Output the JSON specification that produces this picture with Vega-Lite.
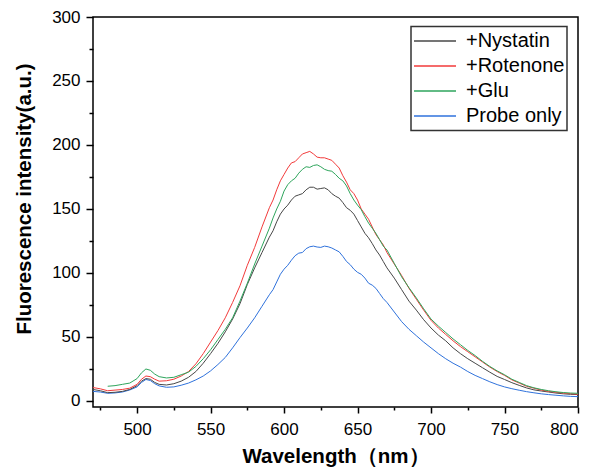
{
  "$schema": "https://vega.github.io/schema/vega-lite/v6.json",
  "width": 485,
  "height": 390,
  "autosize": {"type": "none"},
  "padding": {"left": 93, "top": 17, "right": 14, "bottom": 66},
  "background": "white",
  "config": {
    "view": {"stroke": "black", "strokeWidth": 1.5},
    "font": "Liberation Sans",
    "legend": {"strokeWidth": 1.5},
    "axis": {"grid": false, "domain": false, "tickColor": "black", "tickWidth": 1.5, "labelColor": "black", "labelFont": "Liberation Sans", "labelFontSize": 17, "titleFont": "Liberation Sans", "titleFontSize": 20.5, "titleFontWeight": "bold", "titleColor": "black"}
  },
  "datasets": {
    "spec": [
      {"s": "Probe only", "x": 470, "y": 7.5}, {"s": "Probe only", "x": 475, "y": 7}, {"s": "Probe only", "x": 480, "y": 6}, {"s": "Probe only", "x": 485, "y": 6.3}, {"s": "Probe only", "x": 490, "y": 7}, {"s": "Probe only", "x": 495, "y": 8.6}, {"s": "Probe only", "x": 500, "y": 11}, {"s": "Probe only", "x": 503, "y": 14.5}, {"s": "Probe only", "x": 506, "y": 16.8}, {"s": "Probe only", "x": 509, "y": 16}, {"s": "Probe only", "x": 512, "y": 13.5}, {"s": "Probe only", "x": 515, "y": 11.8}, {"s": "Probe only", "x": 520, "y": 10.7}, {"s": "Probe only", "x": 525, "y": 11}, {"s": "Probe only", "x": 530, "y": 12.3}, {"s": "Probe only", "x": 535, "y": 14}, {"s": "Probe only", "x": 540, "y": 16.5}, {"s": "Probe only", "x": 545, "y": 19.5}, {"s": "Probe only", "x": 550, "y": 23.5}, {"s": "Probe only", "x": 555, "y": 28.5}, {"s": "Probe only", "x": 560, "y": 34}, {"s": "Probe only", "x": 565, "y": 41.5}, {"s": "Probe only", "x": 570, "y": 49.5}, {"s": "Probe only", "x": 575, "y": 57}, {"s": "Probe only", "x": 580, "y": 65}, {"s": "Probe only", "x": 585, "y": 74}, {"s": "Probe only", "x": 590, "y": 83}, {"s": "Probe only", "x": 592.5, "y": 87}, {"s": "Probe only", "x": 595, "y": 93}, {"s": "Probe only", "x": 597.5, "y": 99}, {"s": "Probe only", "x": 600, "y": 103}, {"s": "Probe only", "x": 602.5, "y": 106}, {"s": "Probe only", "x": 605, "y": 110}, {"s": "Probe only", "x": 607.5, "y": 113.5}, {"s": "Probe only", "x": 610, "y": 115.5}, {"s": "Probe only", "x": 612.5, "y": 116}, {"s": "Probe only", "x": 615, "y": 119}, {"s": "Probe only", "x": 617.5, "y": 120.5}, {"s": "Probe only", "x": 620, "y": 121}, {"s": "Probe only", "x": 622.5, "y": 120.3}, {"s": "Probe only", "x": 625, "y": 120}, {"s": "Probe only", "x": 627.5, "y": 121}, {"s": "Probe only", "x": 630, "y": 120.5}, {"s": "Probe only", "x": 632.5, "y": 119.5}, {"s": "Probe only", "x": 635, "y": 118}, {"s": "Probe only", "x": 637.5, "y": 116.5}, {"s": "Probe only", "x": 640, "y": 113}, {"s": "Probe only", "x": 642.5, "y": 109}, {"s": "Probe only", "x": 645, "y": 106.5}, {"s": "Probe only", "x": 647.5, "y": 103}, {"s": "Probe only", "x": 650, "y": 100.5}, {"s": "Probe only", "x": 652.5, "y": 99}, {"s": "Probe only", "x": 655, "y": 96}, {"s": "Probe only", "x": 657.5, "y": 92}, {"s": "Probe only", "x": 660, "y": 90.5}, {"s": "Probe only", "x": 662.5, "y": 88}, {"s": "Probe only", "x": 665, "y": 84}, {"s": "Probe only", "x": 667.5, "y": 80}, {"s": "Probe only", "x": 670, "y": 77}, {"s": "Probe only", "x": 675, "y": 69.5}, {"s": "Probe only", "x": 680, "y": 62}, {"s": "Probe only", "x": 685, "y": 56}, {"s": "Probe only", "x": 690, "y": 51}, {"s": "Probe only", "x": 695, "y": 46}, {"s": "Probe only", "x": 700, "y": 41.5}, {"s": "Probe only", "x": 705, "y": 37}, {"s": "Probe only", "x": 710, "y": 33}, {"s": "Probe only", "x": 715, "y": 29.5}, {"s": "Probe only", "x": 720, "y": 26.5}, {"s": "Probe only", "x": 725, "y": 23}, {"s": "Probe only", "x": 730, "y": 20}, {"s": "Probe only", "x": 735, "y": 17.5}, {"s": "Probe only", "x": 740, "y": 15}, {"s": "Probe only", "x": 745, "y": 12.8}, {"s": "Probe only", "x": 750, "y": 11}, {"s": "Probe only", "x": 755, "y": 9.6}, {"s": "Probe only", "x": 760, "y": 8.4}, {"s": "Probe only", "x": 765, "y": 7.3}, {"s": "Probe only", "x": 770, "y": 6.4}, {"s": "Probe only", "x": 775, "y": 5.6}, {"s": "Probe only", "x": 780, "y": 5}, {"s": "Probe only", "x": 785, "y": 4.5}, {"s": "Probe only", "x": 790, "y": 4}, {"s": "Probe only", "x": 795, "y": 3.6}, {"s": "Probe only", "x": 800, "y": 3.4},

      {"s": "+Nystatin", "x": 470, "y": 9}, {"s": "+Nystatin", "x": 475, "y": 8}, {"s": "+Nystatin", "x": 480, "y": 6.5}, {"s": "+Nystatin", "x": 485, "y": 6.8}, {"s": "+Nystatin", "x": 490, "y": 7.5}, {"s": "+Nystatin", "x": 495, "y": 9}, {"s": "+Nystatin", "x": 500, "y": 12}, {"s": "+Nystatin", "x": 503, "y": 15.5}, {"s": "+Nystatin", "x": 506, "y": 17.5}, {"s": "+Nystatin", "x": 509, "y": 17}, {"s": "+Nystatin", "x": 512, "y": 14.5}, {"s": "+Nystatin", "x": 515, "y": 13}, {"s": "+Nystatin", "x": 520, "y": 12.5}, {"s": "+Nystatin", "x": 525, "y": 13.5}, {"s": "+Nystatin", "x": 530, "y": 15.5}, {"s": "+Nystatin", "x": 535, "y": 18.5}, {"s": "+Nystatin", "x": 540, "y": 23}, {"s": "+Nystatin", "x": 545, "y": 29.5}, {"s": "+Nystatin", "x": 550, "y": 37}, {"s": "+Nystatin", "x": 555, "y": 45}, {"s": "+Nystatin", "x": 560, "y": 54}, {"s": "+Nystatin", "x": 565, "y": 64}, {"s": "+Nystatin", "x": 570, "y": 76}, {"s": "+Nystatin", "x": 575, "y": 91}, {"s": "+Nystatin", "x": 580, "y": 104}, {"s": "+Nystatin", "x": 585, "y": 116}, {"s": "+Nystatin", "x": 590, "y": 128}, {"s": "+Nystatin", "x": 592.5, "y": 133}, {"s": "+Nystatin", "x": 595, "y": 140}, {"s": "+Nystatin", "x": 597.5, "y": 146}, {"s": "+Nystatin", "x": 600, "y": 150}, {"s": "+Nystatin", "x": 602.5, "y": 153}, {"s": "+Nystatin", "x": 605, "y": 157}, {"s": "+Nystatin", "x": 607.5, "y": 160}, {"s": "+Nystatin", "x": 610, "y": 161}, {"s": "+Nystatin", "x": 612.5, "y": 162}, {"s": "+Nystatin", "x": 615, "y": 165}, {"s": "+Nystatin", "x": 617.5, "y": 167}, {"s": "+Nystatin", "x": 620, "y": 167}, {"s": "+Nystatin", "x": 622.5, "y": 165.5}, {"s": "+Nystatin", "x": 625, "y": 166}, {"s": "+Nystatin", "x": 627.5, "y": 166.5}, {"s": "+Nystatin", "x": 630, "y": 165}, {"s": "+Nystatin", "x": 632.5, "y": 162}, {"s": "+Nystatin", "x": 635, "y": 160}, {"s": "+Nystatin", "x": 637.5, "y": 158.5}, {"s": "+Nystatin", "x": 640, "y": 155}, {"s": "+Nystatin", "x": 642.5, "y": 151}, {"s": "+Nystatin", "x": 645, "y": 149}, {"s": "+Nystatin", "x": 647.5, "y": 146}, {"s": "+Nystatin", "x": 650, "y": 141}, {"s": "+Nystatin", "x": 652.5, "y": 136}, {"s": "+Nystatin", "x": 655, "y": 131}, {"s": "+Nystatin", "x": 657.5, "y": 127.5}, {"s": "+Nystatin", "x": 660, "y": 123}, {"s": "+Nystatin", "x": 662.5, "y": 118}, {"s": "+Nystatin", "x": 665, "y": 114}, {"s": "+Nystatin", "x": 667.5, "y": 109}, {"s": "+Nystatin", "x": 670, "y": 104}, {"s": "+Nystatin", "x": 675, "y": 96}, {"s": "+Nystatin", "x": 680, "y": 87}, {"s": "+Nystatin", "x": 685, "y": 78}, {"s": "+Nystatin", "x": 690, "y": 71}, {"s": "+Nystatin", "x": 695, "y": 63.5}, {"s": "+Nystatin", "x": 700, "y": 57}, {"s": "+Nystatin", "x": 705, "y": 51.5}, {"s": "+Nystatin", "x": 710, "y": 47}, {"s": "+Nystatin", "x": 715, "y": 41.5}, {"s": "+Nystatin", "x": 720, "y": 37}, {"s": "+Nystatin", "x": 725, "y": 33}, {"s": "+Nystatin", "x": 730, "y": 29.5}, {"s": "+Nystatin", "x": 735, "y": 26}, {"s": "+Nystatin", "x": 740, "y": 22.5}, {"s": "+Nystatin", "x": 745, "y": 19.2}, {"s": "+Nystatin", "x": 750, "y": 16.8}, {"s": "+Nystatin", "x": 755, "y": 14.3}, {"s": "+Nystatin", "x": 760, "y": 12.2}, {"s": "+Nystatin", "x": 765, "y": 10.2}, {"s": "+Nystatin", "x": 770, "y": 8.7}, {"s": "+Nystatin", "x": 775, "y": 7.8}, {"s": "+Nystatin", "x": 780, "y": 7}, {"s": "+Nystatin", "x": 785, "y": 6.2}, {"s": "+Nystatin", "x": 790, "y": 5.6}, {"s": "+Nystatin", "x": 795, "y": 5.2}, {"s": "+Nystatin", "x": 800, "y": 5},

      {"s": "+Rotenone", "x": 470, "y": 10.5}, {"s": "+Rotenone", "x": 475, "y": 9.5}, {"s": "+Rotenone", "x": 480, "y": 8}, {"s": "+Rotenone", "x": 485, "y": 8.5}, {"s": "+Rotenone", "x": 490, "y": 9}, {"s": "+Rotenone", "x": 495, "y": 10}, {"s": "+Rotenone", "x": 500, "y": 13}, {"s": "+Rotenone", "x": 503, "y": 17}, {"s": "+Rotenone", "x": 506, "y": 19.5}, {"s": "+Rotenone", "x": 509, "y": 19}, {"s": "+Rotenone", "x": 512, "y": 17}, {"s": "+Rotenone", "x": 515, "y": 15.5}, {"s": "+Rotenone", "x": 520, "y": 15.8}, {"s": "+Rotenone", "x": 525, "y": 17}, {"s": "+Rotenone", "x": 530, "y": 19.5}, {"s": "+Rotenone", "x": 535, "y": 23}, {"s": "+Rotenone", "x": 540, "y": 29}, {"s": "+Rotenone", "x": 545, "y": 37}, {"s": "+Rotenone", "x": 550, "y": 46}, {"s": "+Rotenone", "x": 555, "y": 55}, {"s": "+Rotenone", "x": 560, "y": 65}, {"s": "+Rotenone", "x": 565, "y": 77}, {"s": "+Rotenone", "x": 570, "y": 90}, {"s": "+Rotenone", "x": 575, "y": 106}, {"s": "+Rotenone", "x": 580, "y": 120}, {"s": "+Rotenone", "x": 585, "y": 136}, {"s": "+Rotenone", "x": 590, "y": 151}, {"s": "+Rotenone", "x": 592.5, "y": 157}, {"s": "+Rotenone", "x": 595, "y": 165}, {"s": "+Rotenone", "x": 597.5, "y": 172}, {"s": "+Rotenone", "x": 600, "y": 177}, {"s": "+Rotenone", "x": 602.5, "y": 182}, {"s": "+Rotenone", "x": 605, "y": 186}, {"s": "+Rotenone", "x": 607.5, "y": 187}, {"s": "+Rotenone", "x": 610, "y": 190}, {"s": "+Rotenone", "x": 612.5, "y": 193}, {"s": "+Rotenone", "x": 615, "y": 194}, {"s": "+Rotenone", "x": 617.5, "y": 195}, {"s": "+Rotenone", "x": 620, "y": 193}, {"s": "+Rotenone", "x": 622.5, "y": 190.5}, {"s": "+Rotenone", "x": 625, "y": 190}, {"s": "+Rotenone", "x": 627.5, "y": 190}, {"s": "+Rotenone", "x": 630, "y": 189}, {"s": "+Rotenone", "x": 632.5, "y": 188}, {"s": "+Rotenone", "x": 635, "y": 185}, {"s": "+Rotenone", "x": 637.5, "y": 182}, {"s": "+Rotenone", "x": 640, "y": 176}, {"s": "+Rotenone", "x": 642.5, "y": 171}, {"s": "+Rotenone", "x": 645, "y": 165}, {"s": "+Rotenone", "x": 647.5, "y": 162}, {"s": "+Rotenone", "x": 650, "y": 157}, {"s": "+Rotenone", "x": 652.5, "y": 150}, {"s": "+Rotenone", "x": 655, "y": 146}, {"s": "+Rotenone", "x": 657.5, "y": 142}, {"s": "+Rotenone", "x": 660, "y": 136}, {"s": "+Rotenone", "x": 662.5, "y": 130}, {"s": "+Rotenone", "x": 665, "y": 126}, {"s": "+Rotenone", "x": 667.5, "y": 122}, {"s": "+Rotenone", "x": 670, "y": 116}, {"s": "+Rotenone", "x": 675, "y": 107}, {"s": "+Rotenone", "x": 680, "y": 98}, {"s": "+Rotenone", "x": 685, "y": 88}, {"s": "+Rotenone", "x": 690, "y": 79.5}, {"s": "+Rotenone", "x": 695, "y": 71}, {"s": "+Rotenone", "x": 700, "y": 63}, {"s": "+Rotenone", "x": 705, "y": 57}, {"s": "+Rotenone", "x": 710, "y": 52}, {"s": "+Rotenone", "x": 715, "y": 47}, {"s": "+Rotenone", "x": 720, "y": 42.5}, {"s": "+Rotenone", "x": 725, "y": 38.5}, {"s": "+Rotenone", "x": 730, "y": 34.5}, {"s": "+Rotenone", "x": 735, "y": 30.5}, {"s": "+Rotenone", "x": 740, "y": 26.5}, {"s": "+Rotenone", "x": 745, "y": 23}, {"s": "+Rotenone", "x": 750, "y": 20}, {"s": "+Rotenone", "x": 755, "y": 16.5}, {"s": "+Rotenone", "x": 760, "y": 14}, {"s": "+Rotenone", "x": 765, "y": 11.5}, {"s": "+Rotenone", "x": 770, "y": 10}, {"s": "+Rotenone", "x": 775, "y": 8.5}, {"s": "+Rotenone", "x": 780, "y": 7.5}, {"s": "+Rotenone", "x": 785, "y": 6.8}, {"s": "+Rotenone", "x": 790, "y": 6.2}, {"s": "+Rotenone", "x": 795, "y": 5.7}, {"s": "+Rotenone", "x": 800, "y": 5.3},

      {"s": "+Glu", "x": 480, "y": 11.5}, {"s": "+Glu", "x": 485, "y": 12}, {"s": "+Glu", "x": 490, "y": 13}, {"s": "+Glu", "x": 495, "y": 14}, {"s": "+Glu", "x": 500, "y": 17.5}, {"s": "+Glu", "x": 503, "y": 22}, {"s": "+Glu", "x": 506, "y": 25}, {"s": "+Glu", "x": 509, "y": 24}, {"s": "+Glu", "x": 512, "y": 21}, {"s": "+Glu", "x": 515, "y": 19}, {"s": "+Glu", "x": 520, "y": 18}, {"s": "+Glu", "x": 525, "y": 18.5}, {"s": "+Glu", "x": 530, "y": 20.5}, {"s": "+Glu", "x": 535, "y": 22.5}, {"s": "+Glu", "x": 540, "y": 27}, {"s": "+Glu", "x": 545, "y": 33}, {"s": "+Glu", "x": 550, "y": 40}, {"s": "+Glu", "x": 555, "y": 48}, {"s": "+Glu", "x": 560, "y": 56}, {"s": "+Glu", "x": 565, "y": 65}, {"s": "+Glu", "x": 570, "y": 78}, {"s": "+Glu", "x": 575, "y": 92}, {"s": "+Glu", "x": 580, "y": 107}, {"s": "+Glu", "x": 585, "y": 121}, {"s": "+Glu", "x": 590, "y": 135}, {"s": "+Glu", "x": 592.5, "y": 143}, {"s": "+Glu", "x": 595, "y": 150}, {"s": "+Glu", "x": 597.5, "y": 156}, {"s": "+Glu", "x": 600, "y": 164}, {"s": "+Glu", "x": 602.5, "y": 169}, {"s": "+Glu", "x": 605, "y": 172}, {"s": "+Glu", "x": 607.5, "y": 174}, {"s": "+Glu", "x": 610, "y": 178}, {"s": "+Glu", "x": 612.5, "y": 181}, {"s": "+Glu", "x": 615, "y": 183}, {"s": "+Glu", "x": 617.5, "y": 182.5}, {"s": "+Glu", "x": 620, "y": 184}, {"s": "+Glu", "x": 622.5, "y": 184.5}, {"s": "+Glu", "x": 625, "y": 183}, {"s": "+Glu", "x": 627.5, "y": 181}, {"s": "+Glu", "x": 630, "y": 180}, {"s": "+Glu", "x": 632.5, "y": 179.5}, {"s": "+Glu", "x": 635, "y": 177}, {"s": "+Glu", "x": 637.5, "y": 174}, {"s": "+Glu", "x": 640, "y": 172}, {"s": "+Glu", "x": 642.5, "y": 168}, {"s": "+Glu", "x": 645, "y": 162}, {"s": "+Glu", "x": 647.5, "y": 157}, {"s": "+Glu", "x": 650, "y": 153}, {"s": "+Glu", "x": 652.5, "y": 149.5}, {"s": "+Glu", "x": 655, "y": 144}, {"s": "+Glu", "x": 657.5, "y": 139}, {"s": "+Glu", "x": 660, "y": 135}, {"s": "+Glu", "x": 662.5, "y": 131}, {"s": "+Glu", "x": 665, "y": 126}, {"s": "+Glu", "x": 667.5, "y": 121}, {"s": "+Glu", "x": 670, "y": 118}, {"s": "+Glu", "x": 675, "y": 107.5}, {"s": "+Glu", "x": 680, "y": 97}, {"s": "+Glu", "x": 685, "y": 88.5}, {"s": "+Glu", "x": 690, "y": 80.5}, {"s": "+Glu", "x": 695, "y": 72}, {"s": "+Glu", "x": 700, "y": 64}, {"s": "+Glu", "x": 705, "y": 58.5}, {"s": "+Glu", "x": 710, "y": 53.5}, {"s": "+Glu", "x": 715, "y": 48.5}, {"s": "+Glu", "x": 720, "y": 44}, {"s": "+Glu", "x": 725, "y": 39.5}, {"s": "+Glu", "x": 730, "y": 35.5}, {"s": "+Glu", "x": 735, "y": 31}, {"s": "+Glu", "x": 740, "y": 27}, {"s": "+Glu", "x": 745, "y": 23.5}, {"s": "+Glu", "x": 750, "y": 20.5}, {"s": "+Glu", "x": 755, "y": 17}, {"s": "+Glu", "x": 760, "y": 14.5}, {"s": "+Glu", "x": 765, "y": 12}, {"s": "+Glu", "x": 770, "y": 10.3}, {"s": "+Glu", "x": 775, "y": 9}, {"s": "+Glu", "x": 780, "y": 8}, {"s": "+Glu", "x": 785, "y": 7.2}, {"s": "+Glu", "x": 790, "y": 6.6}, {"s": "+Glu", "x": 795, "y": 6.2}, {"s": "+Glu", "x": 800, "y": 6}
    ]
  },
  "data": {"name": "spec"},
  "resolve": {"axis": {"x": "independent", "y": "independent"}},
  "layer": [
    {
      "mark": {"type": "line", "strokeWidth": 1, "clip": true},
      "encoding": {
        "x": {"field": "x", "type": "quantitative", "scale": {"domain": [470, 800], "nice": false, "zero": false},
          "axis": {"orient": "bottom", "values": [500, 550, 600, 650, 700, 750, 800], "tickSize": 6, "labelPadding": 8, "title": "Wavelength（nm）", "titlePadding": 9}},
        "y": {"field": "y", "type": "quantitative", "scale": {"domain": [-4.7, 300], "nice": false, "zero": false},
          "axis": {"orient": "left", "values": [0, 50, 100, 150, 200, 250, 300], "tickSize": 7, "labelPadding": 6, "title": "Fluorescence intensity(a.u.)", "titlePadding": 17, "titleY": 181.5}},
        "color": {"field": "s", "type": "nominal",
          "scale": {"domain": ["+Nystatin", "+Rotenone", "+Glu", "Probe only"], "range": ["#474747", "#f23a3a", "#2ea55c", "#2f72dc"]},
          "legend": {"title": null, "orient": "none", "legendX": 318, "legendY": 9.5, "strokeColor": "#333333", "fillColor": "white", "padding": 2, "symbolType": "stroke", "symbolSize": 1764, "symbolStrokeWidth": 1.3, "labelFontSize": 20, "labelFont": "Liberation Sans", "labelColor": "black", "labelOffset": 9, "clipHeight": 25, "rowPadding": 0}}
      }
    },
    {
      "mark": {"type": "line", "opacity": 0, "clip": true},
      "encoding": {
        "x": {"field": "x", "type": "quantitative",
          "axis": {"orient": "bottom", "values": [475, 525, 575, 625, 675, 725, 775], "tickSize": 3, "labels": false, "title": null}},
        "y": {"field": "y", "type": "quantitative",
          "axis": {"orient": "left", "values": [25, 75, 125, 175, 225, 275], "tickSize": 4, "labels": false, "title": null}},
        "detail": {"field": "s"}
      }
    }
  ]
}
